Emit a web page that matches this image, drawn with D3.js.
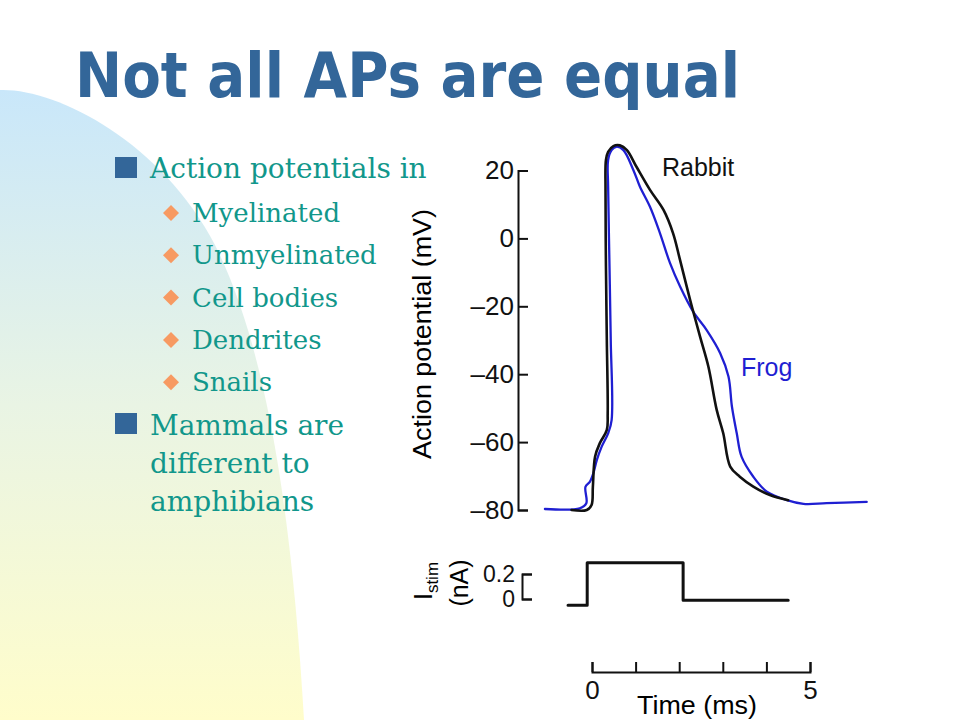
<!DOCTYPE html>
<html lang="en">

<head>
    <meta charset="UTF-8">
    <title>Not all APs are equal</title>
    <script src="https://d3js.org/d3.v7.min.js"></script>
    <style>
        body {
            margin: 0;
            background: #ffffff;
        }

        .title {
            font-family: 'DejaVu Sans', Verdana, sans-serif;
            font-weight: bold;
            fill: #336699;
        }

        .bullet_text {
            font-family: 'DejaVu Serif', serif;
            fill: #11978b;
        }

        .fig_text {
            font-family: 'Liberation Sans', Arial, Helvetica, sans-serif;
            font-size: 25px;
        }

        .axis path, .axis line {
            stroke: #111;
            stroke-width: 2px;
        }

        .axis text {
            font-family: 'Liberation Sans', Arial, Helvetica, sans-serif;
            font-size: 26px;
            fill: #111;
        }

        .stim_axis text {
            font-size: 23px;
        }

        .trace {
            fill: none;
            stroke-linejoin: round;
            stroke-linecap: round;
        }
    </style>
</head>

<body>

<svg width="960" height="720"></svg>

<script>

    // slide text
    const titleText = "Not all APs are equal";
    const bulletOne = "Action potentials in";
    const subItems = ["Myelinated", "Unmyelinated", "Cell bodies", "Dendrites", "Snails"];
    const bulletTwo = ["Mammals are", "different to", "amphibians"];

    // action potential traces, time in ms, voltage in mV
    const rabbitT = [-0.47, -0.12, -0.01, 0.02, 0.07, 0.18, 0.34, 0.36, 0.34, 0.32, 0.31, 0.32, 0.37, 0.49, 0.64, 0.80,
        1.02, 1.33, 1.64, 1.86, 2.02, 2.25, 2.48, 2.67, 2.86, 3.01, 3.17, 3.39, 3.70, 4.08, 4.50];
    const rabbitV = [-80.0, -80.0, -78.5, -73.1, -64.3, -60.3, -56.4, -51.5, -29.9, -8.3, 14.3, 23.1, 25.5, 27.2, 27.4, 26.0,
        21.1, 14.3, 8.4, 1.5, -6.4, -18.1, -29.0, -37.8, -50.5, -57.4, -67.2, -70.2, -73.1, -75.6, -77.1];

    const frogT = [-1.08, -0.28, -0.13, -0.15, -0.05, 0.03, 0.11, 0.22, 0.37, 0.45, 0.43, 0.40, 0.37, 0.37, 0.45, 0.56, 0.72,
        0.95, 1.10, 1.33, 1.56, 1.79, 2.02, 2.32, 2.63, 2.94, 3.13, 3.21, 3.32, 3.43, 3.70, 4.01, 4.47, 4.85, 5.38, 6.30];
    const frogV = [-79.7, -79.5, -78.0, -73.2, -71.7, -69.2, -65.3, -61.4, -57.4, -53.5, -29.9, -7.3, 15.2, 23.1, 26.0, 27.0, 26.0,
        20.1, 15.2, 9.3, 1.5, -7.3, -14.2, -21.6, -27.0, -33.8, -40.7, -49.6, -57.4, -64.3, -70.2, -74.6, -77.1, -78.2, -78.0, -77.6];

    // stimulus current, time in ms, current in nA
    const stimT = [-0.55, -0.11, 2.09, 4.50];
    const stimI = [-0.05, 0.29, -0.01, -0.01];

    const apTicks = [20, 0, -20, -40, -60, -80];
    const stimTicks = [0, 0.2];
    const timeTicks = [0, 1, 2, 3, 4, 5];
    const timeLabels = {0: "0", 5: "5"};

    const svg = d3.select("svg");

    // background swoosh
    const defs = svg.append("defs");
    const grad = defs.append("linearGradient")
        .attr("id", "bgGrad")
        .attr("x1", 0).attr("y1", 0).attr("x2", 0).attr("y2", 1);
    grad.append("stop").attr("offset", "0%").attr("stop-color", "#c9e7fa");
    grad.append("stop").attr("offset", "50%").attr("stop-color", "#e9f4e4");
    grad.append("stop").attr("offset", "100%").attr("stop-color", "#fffdcb");

    svg.append("path")
        .attr("d", "M0,90 C55,88 160,140 215,245 C260,335 290,480 304,720 L0,720 Z")
        .attr("fill", "url(#bgGrad)");

    // title
    svg.append("text")
        .attr("class", "title")
        .attr("x", 75)
        .attr("y", 97)
        .attr("font-size", 62)
        .attr("textLength", 665)
        .attr("lengthAdjust", "spacingAndGlyphs")
        .text(titleText);

    // bullets
    const bullets = svg.append("g");

    bullets.append("rect")
        .attr("x", 115).attr("y", 157).attr("width", 22).attr("height", 21)
        .attr("fill", "#336699");
    bullets.append("text")
        .attr("class", "bullet_text")
        .attr("x", 150).attr("y", 178)
        .attr("font-size", 28)
        .text(bulletOne);

    bullets.selectAll(".diamond")
        .data(subItems)
        .enter()
        .append("path")
        .attr("class", "diamond")
        .attr("d", "M0,-8L8,0L0,8L-8,0Z")
        .attr("transform", (d, i) => "translate(171," + (213 + i * 42.3) + ")")
        .attr("fill", "#f79a62");

    bullets.selectAll(".sub_item")
        .data(subItems)
        .enter()
        .append("text")
        .attr("class", "bullet_text sub_item")
        .attr("x", 192)
        .attr("y", (d, i) => 222 + i * 42.3)
        .attr("font-size", 26)
        .text(d => d);

    bullets.append("rect")
        .attr("x", 115).attr("y", 413).attr("width", 22).attr("height", 21)
        .attr("fill", "#336699");
    bullets.selectAll(".second_item")
        .data(bulletTwo)
        .enter()
        .append("text")
        .attr("class", "bullet_text second_item")
        .attr("x", 150)
        .attr("y", (d, i) => 435 + i * 38)
        .attr("font-size", 28)
        .text(d => d);

    // figure scales
    const x = d3.scaleLinear().domain([0, 5]).range([592, 810]);
    const yAP = d3.scaleLinear().domain([-80, 20]).range([510, 170.5]);
    const yStim = d3.scaleLinear().domain([0, 0.2]).range([599, 574]);

    const fig = svg.append("g");

    // AP axis
    fig.append("g")
        .attr("class", "axis")
        .attr("transform", "translate(518,0)")
        .call(d3.axisLeft(yAP).tickValues(apTicks).tickSize(-10).tickPadding(4)
            .tickFormat(d => d < 0 ? "\u2013" + Math.abs(d) : d));

    fig.append("text")
        .attr("class", "fig_text")
        .attr("transform", "translate(431,334) rotate(-90)")
        .attr("text-anchor", "middle")
        .attr("font-size", 26)
        .attr("textLength", 250)
        .attr("lengthAdjust", "spacingAndGlyphs")
        .text("Action potential (mV)");

    // traces
    const line = d3.line()
        .x(d => x(d[0]))
        .y(d => yAP(d[1]))
        .curve(d3.curveCatmullRom.alpha(0.5));

    fig.append("path")
        .attr("class", "trace")
        .attr("d", line(frogT.map((t, i) => [t, frogV[i]])))
        .attr("stroke", "#1f1fd2")
        .attr("stroke-width", 2.3);

    fig.append("path")
        .attr("class", "trace")
        .attr("d", line(rabbitT.map((t, i) => [t, rabbitV[i]])))
        .attr("stroke", "#111")
        .attr("stroke-width", 2.6);

    fig.append("text")
        .attr("class", "fig_text")
        .attr("x", 662).attr("y", 176)
        .attr("fill", "#111")
        .text("Rabbit");

    fig.append("text")
        .attr("class", "fig_text")
        .attr("x", 741).attr("y", 376)
        .attr("fill", "#1f1fd2")
        .text("Frog");

    // stimulus panel
    fig.append("g")
        .attr("class", "axis stim_axis")
        .attr("transform", "translate(522,0)")
        .call(d3.axisLeft(yStim).tickValues(stimTicks).tickSize(-10).tickPadding(7)
            .tickFormat(d => d === 0 ? "0" : d3.format(".1f")(d)));

    const stimLine = d3.line()
        .x(d => x(d[0]))
        .y(d => yStim(d[1]))
        .curve(d3.curveStepAfter);

    fig.append("path")
        .attr("class", "trace")
        .attr("d", stimLine(stimT.map((t, i) => [t, stimI[i]])))
        .attr("stroke", "#111")
        .attr("stroke-width", 3)
        .attr("stroke-linecap", "butt")
        .attr("stroke-linejoin", "miter");

    const istim = fig.append("text")
        .attr("class", "fig_text")
        .attr("transform", "translate(432,581) rotate(-90)")
        .attr("text-anchor", "middle");
    istim.append("tspan").text("I");
    istim.append("tspan").attr("font-size", 17).attr("dy", 6).text("stim");

    fig.append("text")
        .attr("class", "fig_text")
        .attr("transform", "translate(468,583) rotate(-90)")
        .attr("text-anchor", "middle")
        .text("(nA)");

    // time scale bar
    fig.append("g")
        .attr("class", "axis")
        .attr("transform", "translate(0,672)")
        .call(d3.axisBottom(x).tickValues(timeTicks).tickSize(-10).tickPadding(9)
            .tickFormat(d => timeLabels[d] || ""));

    fig.append("text")
        .attr("class", "fig_text")
        .attr("x", 697).attr("y", 714)
        .attr("text-anchor", "middle")
        .attr("font-size", 25)
        .attr("textLength", 120)
        .attr("lengthAdjust", "spacingAndGlyphs")
        .text("Time (ms)");

</script>
</body>

</html>
